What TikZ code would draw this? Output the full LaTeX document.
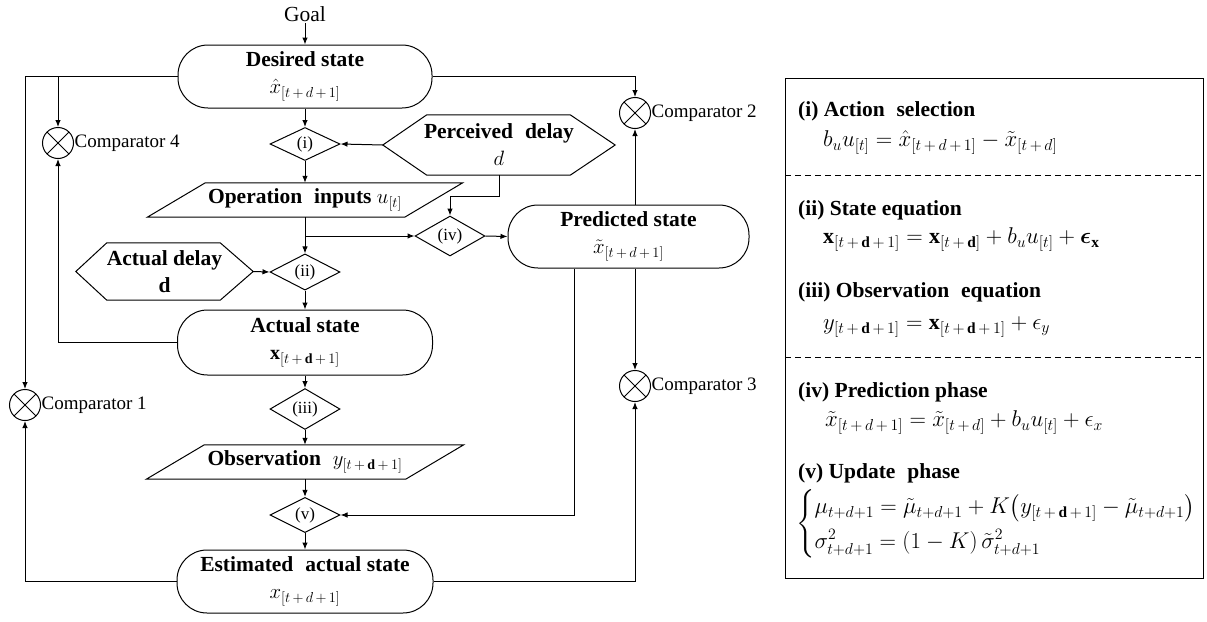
\documentclass[tikz,border=0pt]{standalone}
\usepackage{amsmath}
\usepackage{fontspec}
\setmainfont{Liberation Serif}
\usetikzlibrary{arrows.meta,shapes.geometric,calc}

% spaced plus sign for subscripts
\newcommand{\splus}{\mkern3mu{+}\mkern3mu}
% math inside the flow boxes at a fixed size
\newcommand{\boxmath}[1]{{\fontsize{20}{26}\selectfont$#1$}}
% panel equations, a little larger than the box math
\newcommand{\paneleq}[1]{\scalebox{1.1}{\fontsize{20}{26}\selectfont$#1$}}
% a slightly wider word gap
\newcommand{\wgap}{\hspace{0.55em}}

\tikzset{
  outline/.style={line width=1pt},
  conn/.style={line width=1pt, -{Latex[length=7pt,width=5.5pt]}},
  stadium/.style={draw, line width=1pt, rounded corners=30pt, minimum width=#1,
    minimum height=63pt, inner sep=0pt, align=center},
  dmd/.style={diamond, draw, line width=1pt, minimum width=70pt, minimum height=33pt,
    inner sep=0pt, font=\fontsize{17}{18}\selectfont},
  bare/.style={inner sep=0pt, align=center},
  comp/.style={circle, draw, line width=1pt, minimum size=31pt, inner sep=0pt,
    path picture={\draw[line width=0.9pt]
      (path picture bounding box.north west) -- (path picture bounding box.south east)
      (path picture bounding box.north east) -- (path picture bounding box.south west);}},
  complbl/.style={anchor=west, inner sep=0.5pt, font=\fontsize{19}{20}\selectfont},
  ptitle/.style={anchor=west, inner sep=0pt, font=\bfseries\fontsize{21.5}{24}\selectfont},
  peq/.style={anchor=west, inner sep=0pt},
}

\begin{document}
\begin{tikzpicture}[x=1pt,y=-1pt, every node/.style={font=\fontsize{21.5}{27}\selectfont}]
\useasboundingbox (0,0) rectangle (1207,621);

% ---------- main column ----------
\node[inner sep=1pt] (goal) at (305,14) {Goal};
\node[stadium=254pt] (des) at (305,76.5)
  {\textbf{Desired state}\\\boxmath{\hat{x}_{[t\splus d\splus 1]}}};
\node[dmd] (d1) at (305,144) {(i)};

\node[bare, minimum width=232pt, minimum height=60pt] (pd) at (499,145)
  {\textbf{Perceived\wgap delay}\\\boxmath{d}};
\draw[outline] (pd.west) -- ($(pd.north west)+(44,0)$) -- ($(pd.north east)+(-45,0)$)
  -- (pd.east) -- ($(pd.south east)+(-45,0)$) -- ($(pd.south west)+(44,0)$) -- cycle;

\node[bare, minimum width=315pt, minimum height=34pt] (op) at (305,200)
  {\textbf{Operation\wgap inputs} \boxmath{u_{[t]}}};
\draw[outline] (op.south west) -- ($(op.south east)+(-58,0)$) -- (op.north east)
  -- ($(op.north west)+(58,0)$) -- cycle;

\node[dmd] (d4) at (450,236) {(iv)};
\node[stadium=241pt] (pred) at (628.5,236.5)
  {\textbf{Predicted state}\\\boxmath{\tilde{x}_{[t\splus d\splus 1]}}};

\node[bare, minimum width=177pt, minimum height=57pt] (ad) at (164.5,271.5)
  {\textbf{Actual delay}\\\textbf{d}};
\draw[outline] (ad.west) -- ($(ad.north west)+(31,0)$) -- ($(ad.north east)+(-33,0)$)
  -- (ad.east) -- ($(ad.south east)+(-33,0)$) -- ($(ad.south west)+(31,0)$) -- cycle;

\node[dmd] (d2) at (305,272) {(ii)};
\node[stadium=255pt, minimum height=65pt] (act) at (305,342.5)
  {\textbf{Actual state}\\\boxmath{\mathbf{x}_{[t\splus \mathbf{d}\splus 1]}}};
\node[dmd] (d3) at (305,409) {(iii)};

\node[bare, minimum width=317pt, minimum height=34pt] (obs) at (305,462)
  {\textbf{Observation}\wgap\boxmath{y_{[t\splus \mathbf{d}\splus 1]}}};
\draw[outline] (obs.south west) -- ($(obs.south east)+(-58,0)$) -- (obs.north east)
  -- ($(obs.north west)+(58,0)$) -- cycle;

\node[dmd] (d5) at (305,515) {(v)};
\node[stadium=256pt] (est) at (305,581.5)
  {\textbf{Estimated\wgap actual state}\\\boxmath{x_{[t\splus d\splus 1]}}};

% ---------- comparators ----------
\node[comp] (c1) at (25,405) {};
\node[complbl] (c1l) at (c1.east) {Comparator 1};
\node[comp] (c4) at (58,143) {};
\node[complbl] (c4l) at (c4.east) {Comparator 4};
\node[comp] (c2) at (635,113) {};
\node[complbl] (c2l) at (c2.east) {Comparator 2};
\node[comp] (c3) at (635,386) {};
\node[complbl] (c3l) at (c3.east) {Comparator 3};

% ---------- connectors ----------
\coordinate (tap) at (574,0);
\draw[conn] (goal.south) -- (des.north);
\draw[conn] (des.west) -| (c1.north);
\draw[conn] (des.west -| c4) -- (c4.north);
\draw[conn] (act.west) -| (c4.south);
\draw[conn] (des.east) -| (c2.north);
\draw[conn] (pred.north -| c2) -- (c2.south);
\draw[conn] (des.south) -- (d1.north);
\draw[conn] (pd.west) -- (d1.east);
\draw[conn] (d1.south) -- (op.north);
\draw[conn] (op.south) -- (d2.north);
\draw[conn] (op.south |- d4) -- (d4.west);
\draw[conn] (pd.south) -- ++(0,21) -| (d4.north);
\draw[conn] (d4.east) -- (pred.west);
\draw[conn] (ad.east) -- (d2.west);
\draw[conn] (d2.south) -- (act.north);
\draw[conn] (act.south) -- (d3.north);
\draw[conn] (d3.south) -- (obs.north);
\draw[conn] (obs.south) -- (d5.north);
\draw[conn] (pred.south -| tap) |- (d5.east);
\draw[conn] (pred.south -| c3) -- (c3.north);
\draw[conn] (d5.south) -- (est.north);
\draw[conn] (est.west) -| (c1.south);
\draw[conn] (est.east) -| (c3.south);

% ---------- equation panel ----------
\node[draw, line width=1pt, minimum width=418pt, minimum height=500pt, inner sep=0pt,
  anchor=north west] (panel) at (785,78) {};
\coordinate (cut1) at (0,175);
\coordinate (cut2) at (0,357);
\draw[line width=0.8pt, dash pattern=on 6pt off 4pt] (panel.west |- cut1) -- (panel.east |- cut1);
\draw[line width=0.8pt, dash pattern=on 6pt off 4pt] (panel.west |- cut2) -- (panel.east |- cut2);

\node[ptitle] (t1) at (798,111) {(i) Action\wgap selection};
\node[peq] (e1) at (823,143)
  {\paneleq{b_u u_{[t]} = \hat{x}_{[t\splus d\splus 1]} - \tilde{x}_{[t\splus d]}}};
\node[ptitle] (t2) at (798,210) {(ii) State equation};
\node[peq] (e2) at (823,240)
  {\paneleq{\mathbf{x}_{[t\splus \mathbf{d}\splus 1]} = \mathbf{x}_{[t\splus \mathbf{d}]} + b_u u_{[t]} + \boldsymbol{\epsilon}_{\mathbf{x}}}};
\node[ptitle] (t3) at (798,292) {(iii) Observation\wgap equation};
\node[peq] (e3) at (823,327)
  {\paneleq{y_{[t\splus \mathbf{d}\splus 1]} = \mathbf{x}_{[t\splus \mathbf{d}\splus 1]} + \epsilon_y}};
\node[ptitle] (t4) at (798,392) {(iv) Prediction phase};
\node[peq] (e4) at (825,423)
  {\paneleq{\tilde{x}_{[t\splus d\splus 1]} = \tilde{x}_{[t\splus d]} + b_u u_{[t]} + \epsilon_x}};
\node[ptitle] (t5) at (798,473) {(v) Update\wgap phase};
\node[peq] (e5) at (796,524)
  {\renewcommand{\arraystretch}{1.2}\paneleq{\left\{\begin{array}{@{}l@{}}
    \mu_{t+d+1} = \tilde{\mu}_{t+d+1} + K\bigl(y_{[t\splus \mathbf{d}\splus 1]} - \tilde{\mu}_{t+d+1}\bigr)\\
    \sigma^2_{t+d+1} = (1-K)\,\tilde{\sigma}^2_{t+d+1}
  \end{array}\right.}};
\end{tikzpicture}
\end{document}
